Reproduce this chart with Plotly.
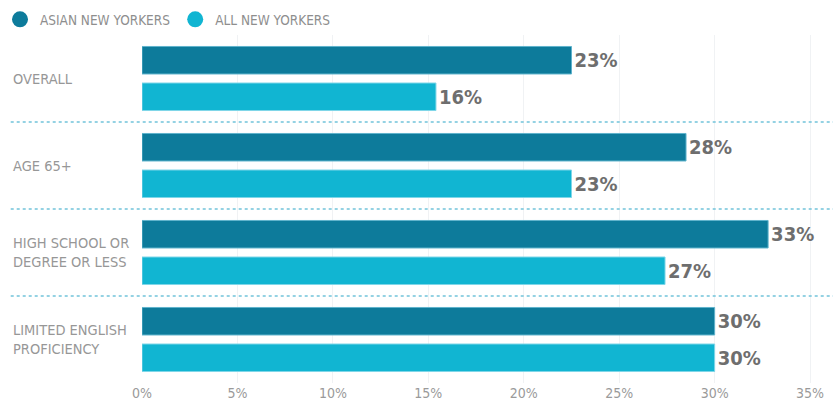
import plotly.graph_objects as go

categories = ["OVERALL", "AGE 65+", "HIGH SCHOOL OR<br>DEGREE OR LESS", "LIMITED ENGLISH<br>PROFICIENCY"]
asian_values = [22.5, 28.5, 32.8, 30.0]
all_values = [15.4, 22.5, 27.4, 30.0]
asian_labels = ["23%", "28%", "33%", "30%"]
all_labels = ["16%", "23%", "27%", "30%"]
tick_vals = [0, 5, 10, 15, 20, 25, 30, 35]
tick_text = ["0%", "5%", "10%", "15%", "20%", "25%", "30%", "35%"]
series_names = ["ASIAN NEW YORKERS", "ALL NEW YORKERS"]

DARK = "#0d7b9b"
LIGHT = "#11b5d2"
FONT = "DejaVu Sans Condensed, Liberation Sans Narrow, sans-serif"

y_idx = list(range(len(categories)))

fig = go.Figure()
fig.add_trace(go.Bar(
    y=y_idx, x=asian_values, orientation="h", name=series_names[0],
    marker=dict(color=DARK, line=dict(color="#5fb3cc", width=1)),
    text=asian_labels, textposition="outside", cliponaxis=False,
    textfont=dict(family=FONT, size=20, color="#6e6e6e", weight="bold"),
    showlegend=False, hoverinfo="skip",
))
fig.add_trace(go.Bar(
    y=y_idx, x=all_values, orientation="h", name=series_names[1],
    marker=dict(color=LIGHT, line=dict(color="#7fd6e8", width=1)),
    text=all_labels, textposition="outside", cliponaxis=False,
    textfont=dict(family=FONT, size=20, color="#6e6e6e", weight="bold"),
    showlegend=False, hoverinfo="skip",
))
# legend markers
for name, col in zip(series_names, [DARK, LIGHT]):
    fig.add_trace(go.Scatter(
        x=[None], y=[None], mode="markers", name=name,
        marker=dict(symbol="circle", size=17, color=col),
        showlegend=True,
    ))

# category labels
for i, c in enumerate(categories):
    fig.add_annotation(
        x=-0.19, xref="paper", y=i, yref="y", text=c, showarrow=False,
        xanchor="left", yanchor="middle", align="left",
        font=dict(family=FONT, size=14.5, color="#979797"),
    )

# dotted separators between groups
for i in range(len(categories) - 1):
    fig.add_shape(
        type="line", xref="paper", yref="y", x0=-0.19, x1=1.0,
        y0=i + 0.5, y1=i + 0.5,
        line=dict(color="#72c3da", width=1.5, dash="dot"),
    )

fig.update_layout(
    width=836, height=402,
    margin=dict(l=142, r=3, t=35, b=19, autoexpand=False),
    paper_bgcolor="white", plot_bgcolor="white",
    barmode="group", bargap=0.16, bargroupgap=0.247,
    font=dict(family=FONT),
    legend=dict(
        orientation="h", xref="container", yref="container",
        x=-0.009, y=0.99, xanchor="left", yanchor="top",
        font=dict(family=FONT, size=13.5, color="#8e8e8e"),
        itemsizing="trace", itemwidth=30, traceorder="normal",
        bgcolor="rgba(0,0,0,0)",
    ),
    xaxis=dict(
        range=[0, 36.2], tickvals=tick_vals, ticktext=tick_text,
        showgrid=True, gridcolor="#f0f2f4", gridwidth=1,
        zeroline=False, showline=False,
        tickfont=dict(family=FONT, size=14, color="#9a9a9a"),
        ticks="", fixedrange=True,
    ),
    yaxis=dict(
        range=[3.5, -0.5], showticklabels=False, showgrid=False,
        zeroline=False, showline=False, ticks="", fixedrange=True,
    ),
)

fig.write_html("out.html", config={"displayModeBar": False},
               post_script="document.body.style.margin='0';")
